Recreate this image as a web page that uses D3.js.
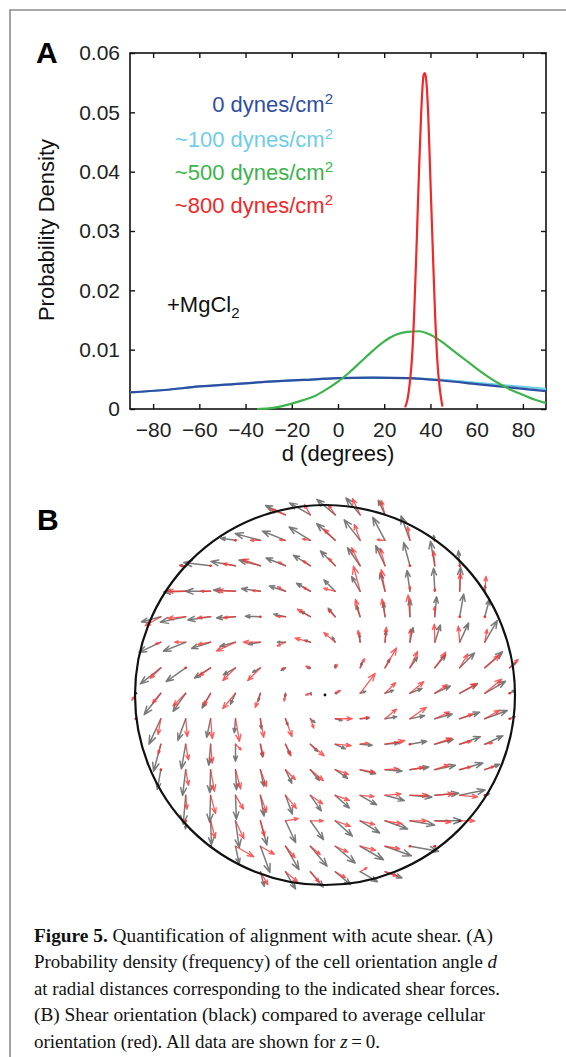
<!DOCTYPE html>
<html>
<head>
<meta charset="utf-8">
<script src="https://cdn.jsdelivr.net/npm/d3@7"></script>
<style>
  html, body { margin: 0; padding: 0; background: #fff; }
  svg { display: block; }
</style>
</head>
<body>
<svg id="fig" width="566" height="1057"></svg>
<script>
// ---------- panel A: probability density vs orientation angle ----------
const xTicks = [-80, -60, -40, -20, 0, 20, 40, 60, 80];
const yTicks = [0, 0.01, 0.02, 0.03, 0.04, 0.05, 0.06];

const flatD   = [-90, -75, -60, -45, -30, -15, 0, 15, 30, 45, 60, 75, 90];
const dens0   = [0.0028, 0.0032, 0.0038, 0.0042, 0.0046, 0.0049, 0.0052, 0.0053, 0.0052, 0.0048, 0.0042, 0.0036, 0.0030];
const dens100 = [0.0028, 0.0032, 0.0038, 0.0042, 0.0046, 0.0049, 0.0052, 0.0053, 0.0052, 0.0049, 0.0044, 0.0039, 0.0034];

const dens500D = [-35, -30, -25, -20, -15, -10, -5, 0, 5, 10, 15, 20, 25, 30, 35, 40, 45, 50, 55, 60, 65, 70, 75, 80, 85, 90];
const dens500  = [0.0, 0.0001, 0.0004, 0.0009, 0.0015, 0.0022, 0.0033, 0.0046, 0.0062, 0.0080, 0.0098, 0.0114, 0.0125, 0.0130,
                  0.0131, 0.0125, 0.0113, 0.0098, 0.0083, 0.0068, 0.0054, 0.0042, 0.0032, 0.0024, 0.0016, 0.0010];

const dens800D = [29, 30, 31, 32, 33, 34, 35, 36, 37, 37.5, 38, 39, 40, 41, 42, 43, 44, 45.2];
const dens800  = [0.0003, 0.0015, 0.0042, 0.0085, 0.0165, 0.0275, 0.0395, 0.0500, 0.0562, 0.0566, 0.0560, 0.0500,
                  0.0385, 0.0270, 0.0160, 0.0080, 0.0035, 0.0004];

const legendLabels = ['0 dynes/cm', '~100 dynes/cm', '~500 dynes/cm', '~800 dynes/cm'];
const seriesColors = ['#2f4ea2', '#6fcde6', '#3cb44b', '#f0282a'];

// ---------- panel B: shear (black) vs cell orientation (red) field ----------
// grid in dish units (dish radius = 1)
const gridXs = [-0.995, -0.864, -0.733, -0.602, -0.471, -0.340, -0.208, -0.077, 0.054, 0.185, 0.316, 0.447, 0.578, 0.709, 0.841, 0.972];
const gridYs = [0.948, 0.814, 0.680, 0.546, 0.412, 0.278, 0.143, 0.009, -0.125, -0.259, -0.393, -0.528, -0.662, -0.796, -0.930];
const rowStart = [6, 4, 2, 2, 1, 1, 1, 0, 0, 1, 1, 2, 2, 3, 5];

const blackAng = [
  [155, 150, 140, 130, 115],
  [172, 165, 158, 148, 138, 128, 118, 110, 105],
  [175, 173, 170, 165, 158, 148, 135, 125, 115, 105, 100, 95],
  [182, 180, 177, 172, 162, 150, 135, 120, 105, 98, 93, 88, 85],
  [195, 192, 188, 184, 178, 168, 150, 130, 110, 97, 90, 85, 80, 75],
  [205, 202, 198, 195, 190, 180, 160, 120, 95, 85, 78, 72, 65, 60],
  [218, 215, 212, 210, 210, 210, 180, 90, 70, 62, 55, 50, 45, 42, 40],
  [235, 232, 235, 240, 245, 255, 265, 300, 20, 20, 20, 22, 25, 28, 30, 32],
  [245, 245, 250, 258, 265, 275, 290, 320, 345, 5, 10, 12, 15, 18, 20, 22],
  [255, 260, 265, 270, 280, 295, 315, 335, 355, 5, 10, 15, 20, 25],
  [260, 263, 268, 273, 282, 295, 310, 325, 345, 355, 8, 12, 16, 20],
  [265, 268, 272, 280, 290, 305, 318, 330, 345, 355, 5, 12, 18],
  [268, 272, 278, 285, 295, 305, 318, 328, 340, 350, 0, 8],
  [275, 282, 290, 300, 310, 320, 330, 340, 350, 0],
  [285, 300, 310, 320, 330, 340]
];
const blackMag = [
  [2.2, 2.4, 2.4, 2.2, 1.6],
  [1.5, 2.6, 2.5, 2.5, 2.5, 2.6, 2.6, 2.6, 0.5],
  [0.6, 2.7, 2.5, 2.2, 2.1, 2.0, 2.1, 2.2, 2.2, 2.4, 2.5, 1.5],
  [2.2, 2.5, 2.2, 1.9, 1.7, 1.6, 1.6, 1.7, 1.9, 2.1, 2.3, 2.4, 0.6],
  [2.0, 2.6, 2.3, 1.9, 1.5, 1.2, 1.1, 1.1, 1.2, 1.4, 1.7, 2.0, 2.3, 1.8],
  [2.4, 2.4, 2.0, 1.6, 1.2, 0.8, 0.6, 0.6, 0.8, 1.1, 1.5, 1.8, 2.1, 2.5],
  [2.6, 2.4, 1.9, 1.4, 0.9, 0.5, 0.3, 0.3, 0.6, 1.0, 1.3, 1.7, 2.1, 2.4, 0.8],
  [0, 2.7, 2.2, 1.7, 1.2, 0.8, 0.4, 0.2, 0.3, 0.6, 0.9, 1.3, 1.7, 2.0, 2.4, 0.6],
  [0, 2.8, 2.3, 1.9, 1.4, 1.0, 0.7, 0.6, 0.7, 0.9, 1.2, 1.5, 1.8, 2.1, 2.4, 0.6],
  [2.8, 2.5, 2.1, 1.7, 1.3, 1.1, 1.0, 1.1, 1.2, 1.4, 1.7, 1.9, 2.2, 2.0],
  [2.0, 2.6, 2.3, 2.0, 1.7, 1.5, 1.4, 1.5, 1.6, 1.7, 1.9, 2.1, 2.4, 1.6],
  [2.9, 2.7, 2.4, 2.1, 2.0, 1.9, 1.9, 1.9, 2.0, 2.2, 2.4, 2.6, 0.5],
  [0.8, 2.4, 2.7, 2.5, 2.4, 2.3, 2.3, 2.3, 2.4, 2.5, 2.7, 0],
  [0, 1.8, 2.8, 2.7, 2.6, 2.6, 2.7, 2.8, 2.9, 0],
  [1.5, 2.0, 2.0, 2.0, 2.0, 1.8]
];

const redAng = [
  [160, 120, 125, 115, 105],
  [0, 180, 175, 170, 135, 110, 175, 100, 0],
  [180, 0, 170, 160, 150, 145, 130, 115, 105, 0, 95, 0],
  [180, 180, 178, 175, 150, 150, 165, 105, 100, 90, 90, 88, 85],
  [210, 185, 185, 185, 0, 180, 150, 135, 105, 100, 95, 92, 0, 0],
  [200, 180, 190, 205, 180, 205, 165, 140, 100, 85, 88, 92, 95, 80],
  [225, 0, 215, 225, 225, 200, 160, 60, 65, 60, 65, 55, 60, 40, 45],
  [240, 230, 225, 240, 230, 250, 260, 200, 30, 53, 45, 40, 35, 30, 40, 0],
  [0, 260, 275, 275, 280, 280, 290, 290, 0, 10, 40, 35, 25, 20, 30, 0],
  [255, 280, 275, 315, 285, 295, 320, 355, 10, 10, 0, 20, 15, 10],
  [0, 280, 280, 285, 290, 315, 320, 340, 350, 5, 10, 20, 15, 20],
  [275, 285, 300, 290, 310, 325, 340, 355, 5, 0, 5, 355, 0],
  [0, 285, 295, 285, 10, 0, 340, 345, 350, 0, 355, 0],
  [0, 330, 330, 310, 320, 335, 345, 350, 0, 0],
  [300, 320, 310, 330, 30, 340]
];
const redMag = [
  [1.6, 1.2, 1.2, 1.8, 1.5],
  [0, 1.0, 0.6, 0.8, 1.6, 1.7, 0.8, 1.4, 0],
  [0.6, 0, 1.3, 1.9, 0.8, 0.9, 1.0, 2.0, 1.8, 0, 1.5, 0],
  [1.8, 1.0, 1.8, 0.8, 0.9, 0.8, 1.2, 2.6, 2.2, 0.5, 0.3, 1.8, 1.5],
  [1.8, 1.8, 1.3, 1.2, 0, 0.8, 1.5, 1.0, 1.8, 1.8, 2.2, 1.0, 0, 0],
  [0.6, 1.1, 1.3, 2.1, 1.7, 0.9, 1.6, 1.5, 1.2, 1.5, 1.3, 1.8, 1.6, 1.3],
  [1.5, 0, 1.4, 1.8, 1.8, 0.4, 0.5, 0.4, 1.0, 2.3, 1.8, 1.9, 1.6, 2.0, 1.2],
  [0.8, 1.3, 1.8, 1.4, 2.0, 1.5, 0.8, 0.5, 0.6, 2.5, 1.5, 1.8, 1.5, 2.0, 2.2, 0],
  [0, 1.6, 1.8, 2.0, 2.3, 1.9, 1.9, 1.0, 1.7, 0.9, 1.5, 2.0, 1.6, 1.4, 1.7, 0],
  [1.0, 1.6, 1.9, 0.8, 1.2, 1.3, 1.8, 1.6, 0.8, 2.0, 0, 1.8, 1.2, 0.8],
  [0, 1.6, 2.2, 2.0, 1.8, 1.4, 1.7, 1.4, 1.5, 1.3, 1.4, 1.5, 1.2, 1.0],
  [1.4, 1.9, 1.6, 1.8, 1.7, 1.5, 1.5, 1.4, 1.6, 1.8, 1.9, 1.8, 0],
  [0, 1.8, 2.0, 1.6, 1.3, 1.3, 1.6, 1.5, 1.7, 1.7, 1.6, 1.5],
  [0, 2.1, 1.6, 1.5, 1.3, 1.4, 1.6, 1.5, 0, 0],
  [1.5, 1.6, 1.4, 1.2, 0.8, 1.3]
];

const captionLines = [
  [{ t: 'Figure 5.', b: true }, { t: ' Quantification of alignment with acute shear. (A)' }],
  [{ t: 'Probability density (frequency) of the cell orientation angle ' }, { t: 'd', i: true }],
  [{ t: 'at radial distances corresponding to the indicated shear forces.' }],
  [{ t: '(B) Shear orientation (black) compared to average cellular' }],
  [{ t: 'orientation (red). All data are shown for ' }, { t: 'z', i: true }, { t: '\u2009=\u20090.' }]
];
const captionWidths = [459, 463, 466, 451, 346];

const SANS = "'Liberation Sans', Arial, Helvetica, sans-serif";
const SERIF = "'Liberation Serif', 'Times New Roman', serif";

const svg = d3.select('#fig');

// frame
svg.append('path')
  .attr('d', 'M10,1057 L10,10 L566,10')
  .attr('fill', 'none')
  .attr('stroke', '#8c8c8c')
  .attr('stroke-width', 1.6);

// ---------- panel A ----------
const x = d3.scaleLinear().domain([-90, 90]).range([130, 546]);
const y = d3.scaleLinear().domain([0, 0.06]).range([409, 53]);

const gA = svg.append('g');

gA.append('g')
  .attr('transform', 'translate(0,409)')
  .call(d3.axisBottom(x).tickValues(xTicks).tickSizeInner(-5).tickSizeOuter(0).tickPadding(13));
gA.append('g')
  .attr('transform', 'translate(0,53)')
  .call(d3.axisTop(x).tickValues(xTicks).tickSizeInner(-5).tickSizeOuter(0).tickFormat(''));
gA.append('g')
  .attr('transform', 'translate(130,0)')
  .call(d3.axisLeft(y).tickValues(yTicks).tickSizeInner(-5).tickSizeOuter(0).tickPadding(10)
    .tickFormat((d) => (d === 0 ? '0' : d.toFixed(2))));
gA.append('g')
  .attr('transform', 'translate(546,0)')
  .call(d3.axisRight(y).tickValues(yTicks).tickSizeInner(-5).tickSizeOuter(0).tickFormat(''));

gA.selectAll('.domain').remove();
gA.selectAll('.tick line').attr('stroke', '#111').attr('stroke-width', 1.4);
gA.selectAll('.tick text')
  .attr('font-family', SANS)
  .attr('font-size', 21)
  .attr('fill', '#222');

gA.append('rect')
  .attr('x', x(-90)).attr('y', y(0.06))
  .attr('width', x(90) - x(-90)).attr('height', y(0) - y(0.06))
  .attr('fill', 'none').attr('stroke', '#111').attr('stroke-width', 1.6);

const line = (xs) => d3.line()
  .x((d, i) => x(xs[i]))
  .y((d) => y(d))
  .curve(d3.curveMonotoneX);

const curves = [
  { xs: flatD, ys: dens100, c: seriesColors[1] },
  { xs: flatD, ys: dens0, c: seriesColors[0] },
  { xs: dens500D, ys: dens500, c: seriesColors[2] },
  { xs: dens800D, ys: dens800, c: seriesColors[3] }
];
curves.forEach((s) => {
  gA.append('path')
    .attr('d', line(s.xs)(s.ys))
    .attr('fill', 'none')
    .attr('stroke', s.c)
    .attr('stroke-width', 2.2);
});

// legend text
const legendY = [112, 147, 180, 213];
legendLabels.forEach((lab, i) => {
  const t = gA.append('text')
    .attr('x', 333).attr('y', legendY[i])
    .attr('text-anchor', 'end')
    .attr('font-family', SANS).attr('font-size', 22)
    .attr('fill', seriesColors[i]);
  t.append('tspan').text(lab);
  t.append('tspan').attr('font-size', 15).attr('dy', -8).text('2');
});

const mg = gA.append('text')
  .attr('x', 167).attr('y', 312)
  .attr('font-family', SANS).attr('font-size', 22).attr('fill', '#111');
mg.append('tspan').text('+MgCl');
mg.append('tspan').attr('font-size', 15).attr('dy', 6).text('2');

gA.append('text')
  .attr('transform', 'translate(54,230) rotate(-90)')
  .attr('text-anchor', 'middle')
  .attr('font-family', SANS).attr('font-size', 22).attr('fill', '#111')
  .text('Probability Density');

gA.append('text')
  .attr('x', 338).attr('y', 461)
  .attr('text-anchor', 'middle')
  .attr('font-family', SANS).attr('font-size', 22).attr('fill', '#111')
  .text('d (degrees)');

svg.append('text')
  .attr('x', 36).attr('y', 63)
  .attr('font-family', SANS).attr('font-size', 30).attr('font-weight', 'bold')
  .text('A');

// ---------- panel B ----------
svg.append('text')
  .attr('x', 37).attr('y', 530)
  .attr('font-family', SANS).attr('font-size', 30).attr('font-weight', 'bold')
  .text('B');

const bx = d3.scaleLinear().domain([-1, 1]).range([135, 515]);
const by = d3.scaleLinear().domain([-1, 1]).range([885, 505]);
const arrowLen = d3.scaleLinear().domain([0, 1]).range([0, 10]);

const gB = svg.append('g');

function drawField(angs, mags, color, dotColor, width) {
  const g = gB.append('g');
  rowStart.forEach((c0, r) => {
    angs[r].forEach((a, i) => {
      const px = bx(gridXs[c0 + i]);
      const py = by(gridYs[r]);
      const L = arrowLen(mags[r][i]);
      if (L < 0.5) {
        g.append('circle').attr('cx', px).attr('cy', py).attr('r', 1.3).attr('fill', dotColor);
        return;
      }
      const t = (a * Math.PI) / 180;
      const hx = px + L * Math.cos(t);
      const hy = py - L * Math.sin(t);
      const h = Math.max(2.5, L * 0.32);
      const s = 0.36;
      const w1x = hx - h * Math.cos(t - s), w1y = hy + h * Math.sin(t - s);
      const w2x = hx - h * Math.cos(t + s), w2y = hy + h * Math.sin(t + s);
      g.append('path')
        .attr('d', `M${px},${py}L${hx},${hy}M${w1x},${w1y}L${hx},${hy}L${w2x},${w2y}`)
        .attr('fill', 'none')
        .attr('stroke', color)
        .attr('stroke-width', width)
        .attr('stroke-linecap', 'round')
        .attr('stroke-linejoin', 'round');
    });
  });
}

drawField(blackAng, blackMag, 'rgba(70,70,70,0.72)', '#222', 1.5);
drawField(redAng, redMag, 'rgba(250,50,50,0.8)', '#f22', 1.3);

gB.append('circle')
  .attr('cx', bx(0)).attr('cy', by(0)).attr('r', 1.4).attr('fill', '#111');

gB.append('circle')
  .attr('cx', bx(0)).attr('cy', by(0))
  .attr('r', bx(1) - bx(0))
  .attr('fill', 'none')
  .attr('stroke', '#111')
  .attr('stroke-width', 2.2);

// ---------- caption ----------
const capY = [942, 968, 995, 1021, 1048];
captionLines.forEach((parts, i) => {
  const t = svg.append('text')
    .attr('x', 34).attr('y', capY[i])
    .attr('font-family', SERIF).attr('font-size', 18.5).attr('fill', '#111')
    .attr('textLength', captionWidths[i])
    .attr('lengthAdjust', 'spacingAndGlyphs');
  parts.forEach((p) => {
    const ts = t.append('tspan').text(p.t);
    if (p.b) ts.attr('font-weight', 'bold');
    if (p.i) ts.attr('font-style', 'italic');
  });
});
</script>
</body>
</html>
